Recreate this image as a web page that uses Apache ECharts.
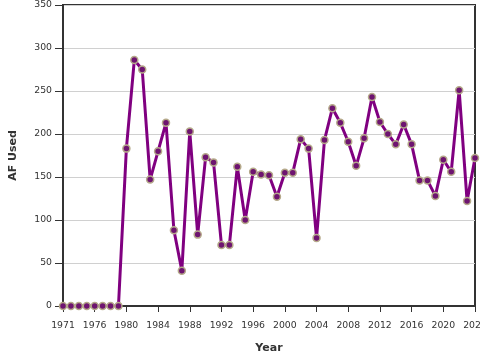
<!DOCTYPE html>
<html>
<head>
<meta charset="utf-8">
<script src="https://cdn.jsdelivr.net/npm/echarts@6/dist/echarts.min.js"></script>
<style>html,body{margin:0;padding:0;background:#fff}#c{width:480px;height:360px}</style>
</head>
<body>
<div id="c"></div>
<script>
var years = ['1971','1973','1974','1975','1976','1977','1978','1979',
  '1980','1981','1982','1983','1984','1985','1986','1987','1988','1989',
  '1990','1991','1992','1993','1994','1995','1996','1997','1998','1999',
  '2000','2001','2002','2003','2004','2005','2006','2007','2008','2009',
  '2010','2011','2012','2013','2014','2015','2016','2017','2018','2019',
  '2020','2021','2022','2023','2024'];
var afUsed = [0,0,0,0,0,0,0,0,
  183,286,275,147,180,213,88,41,203,83,
  173,167,71,71,162,100,156,153,152,127,
  155,155,194,183,79,193,230,213,191,163,
  195,243,214,200,188,211,188,146,146,128,
  170,156,251,122,172];
var yTicks = [0,50,100,150,200,250,300,350];

var chart = echarts.init(document.getElementById('c'), null, {renderer:'canvas'});
var font = 'DejaVu Sans';
chart.setOption({
  animation: false,
  grid: {left: 63, right: 5, top: 5, bottom: 54, outerBoundsMode: 'none', containLabel: false,
    show: true, borderColor: '#333', borderWidth: 2, backgroundColor: 'transparent'},
  xAxis: {
    type: 'category',
    data: years,
    boundaryGap: false,
    name: 'Year',
    nameLocation: 'middle',
    nameGap: 37,
    nameTextStyle: {fontFamily: font, fontWeight: 'bold', fontSize: 11, color: '#333'},
    axisLine: {lineStyle: {color: '#333', width: 2}},
    axisTick: {show: true, interval: 3, length: 6, lineStyle: {color: '#333', width: 1}},
    axisLabel: {interval: 3, margin: 15, fontFamily: font, fontSize: 9.3, color: '#333', showMaxLabel: true, hideOverlap: false},
    splitLine: {show: false}
  },
  yAxis: {
    type: 'value',
    min: yTicks[0],
    max: yTicks[yTicks.length-1],
    interval: 50,
    name: 'AF Used',
    nameLocation: 'middle',
    nameGap: 44,
    nameTextStyle: {fontFamily: font, fontWeight: 'bold', fontSize: 11, color: '#333'},
    axisLine: {show: true, lineStyle: {color: '#333', width: 2}},
    axisTick: {show: true, length: 8, lineStyle: {color: '#333', width: 1}},
    axisLabel: {margin: 11, fontFamily: font, fontSize: 9.3, color: '#333'},
    splitLine: {show: true, lineStyle: {color: '#d0d0d0', width: 1}}
  },
  series: [{
    type: 'line',
    data: afUsed,
    symbol: 'circle',
    symbolSize: 7,
    showAllSymbol: true,
    lineStyle: {color: '#800080', width: 3},
    itemStyle: {color: '#6e1470', borderColor: '#b5a98a', borderWidth: 1.5},
    z: 3
  }]
});
</script>
</body>
</html>
